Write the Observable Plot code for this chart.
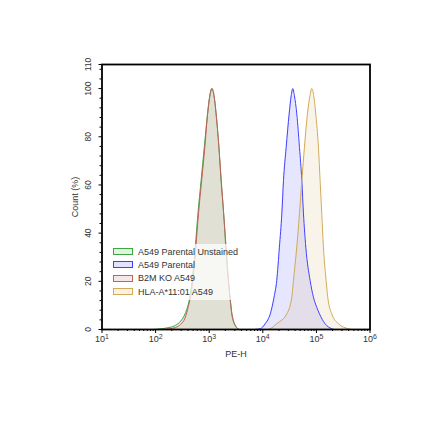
<!DOCTYPE html>
<html>
<head>
<meta charset="utf-8">
<script src="https://cdn.jsdelivr.net/npm/d3@7"></script>
<script src="https://cdn.jsdelivr.net/npm/@observablehq/plot@0.6"></script>
<style>
  html, body { margin: 0; padding: 0; background: #fff; }
  #wrap { position: relative; width: 440px; height: 440px; font-family: "Liberation Sans", Arial, sans-serif; }
  #legend { position: absolute; left: 110px; top: 244px; width: 128px; background: rgba(255,255,255,0.72); padding: 1px 0 2px 0; }
  .row { display: flex; align-items: center; height: 13.3px; font-size: 9px; color: #333; white-space: nowrap; }
  .sw { width: 18px; height: 5px; margin-left: 3px; margin-right: 5px; border: 1px solid; }
</style>
</head>
<body>
<div id="wrap"><div id="legend"></div></div>
<script>
// Series names and colours
const seriesNames = ["A549 Parental Unstained", "A549 Parental", "B2M KO A549", "HLA-A*11:01 A549"];
const seriesColors = ["#3aa83a", "#4040ff", "#c46060", "#d2aa58"];

// PE-H values given as log10 exponents, with Count (%)
const greenLogX = [1.95, 2.10, 2.25, 2.37, 2.47, 2.55, 2.63, 2.68, 2.74, 2.79, 2.85, 2.91, 2.97, 3.02, 3.05, 3.09, 3.13, 3.18, 3.22, 3.27, 3.31, 3.36, 3.39, 3.42, 3.45, 3.49, 3.53, 3.56];
const greenPct  = [0, 0.3, 0.8, 1.7, 3.5, 6.5, 12.5, 20, 34, 48, 62, 76, 89.5, 98, 100, 97, 89, 76, 62, 48, 34, 20, 13, 6.5, 3.5, 1.5, 0.4, 0];

const blueLogX = [3.85, 3.95, 4.045, 4.14, 4.21, 4.26, 4.31, 4.355, 4.386, 4.436, 4.492, 4.53, 4.56, 4.59, 4.634, 4.684, 4.728, 4.759, 4.802, 4.883, 4.945, 5.007, 5.057, 5.162, 5.286, 5.33];
const bluePct  = [0, 0.3, 2.4, 6.5, 13.4, 20.3, 34.2, 48, 61.8, 75.6, 89.5, 97, 100, 97, 89.5, 75.6, 61.8, 48, 34.2, 20.3, 13.4, 9.2, 6.5, 2.4, 0.3, 0];

const redLogX = [2.10, 2.25, 2.37, 2.47, 2.55, 2.61, 2.67, 2.71, 2.75, 2.80, 2.86, 2.92, 2.97, 3.02, 3.05, 3.09, 3.13, 3.18, 3.225, 3.27, 3.315, 3.36, 3.39, 3.425, 3.455, 3.49, 3.53, 3.56];
const redPct  = [0, 0.3, 0.8, 2.2, 4.8, 9.5, 16, 24, 34, 48, 62, 76, 89.5, 98, 100, 97, 89.5, 76, 62, 48, 34, 20, 13, 6.5, 3.5, 1.5, 0.4, 0];

const yellowLogX = [4.10, 4.138, 4.262, 4.448, 4.541, 4.572, 4.634, 4.684, 4.728, 4.777, 4.833, 4.88, 4.914, 4.95, 4.988, 5.038, 5.069, 5.10, 5.131, 5.181, 5.212, 5.286, 5.41, 5.597, 5.65];
const yellowPct  = [0, 0.3, 2.4, 6.5, 13.4, 20.3, 34.2, 48, 61.8, 75.6, 89.5, 97, 100, 97, 89.5, 75.6, 61.8, 48, 34.2, 20.3, 13.4, 6.5, 2.4, 0.3, 0];

// Tick values
const xMajorTicks = [10, 100, 1000, 10000, 100000, 1000000];
const xMinorTicks = [20,30,40,50,60,70,80,90,200,300,400,500,600,700,800,900,2000,3000,4000,5000,6000,7000,8000,9000,20000,30000,40000,50000,60000,70000,80000,90000,200000,300000,400000,500000,600000,700000,800000,900000];
const yMajorTicks = [0, 20, 40, 60, 80, 100, 110];
const yMinorTicks = [4,8,12,16,24,28,32,36,44,48,52,56,64,68,72,76,84,88,92,96,104,108];

const seriesData = [[greenLogX, greenPct], [blueLogX, bluePct], [redLogX, redPct], [yellowLogX, yellowPct]];
const rows = seriesData.flatMap(([lx, pct], s) => lx.map((l, i) => ({series: seriesNames[s], x: Math.pow(10, l), y: pct[i]})));

const font = "Liberation Sans, Arial, sans-serif";
const chart = Plot.plot({
  width: 440,
  height: 440,
  marginLeft: 101.5,
  marginRight: 70.5,
  marginTop: 64,
  marginBottom: 111,
  style: {fontFamily: font, background: "white"},
  x: {type: "log", domain: [10, 1000000], label: null},
  y: {domain: [0, 110], label: null},
  color: {domain: seriesNames, range: seriesColors},
  marks: [
    Plot.area(rows, {x1: "x", y1: 0, y2: "y", z: "series", fill: "series", fillOpacity: 0.13, curve: "monotone-x"}),
    Plot.line(rows, {x: "x", y: "y", z: "series", stroke: "series", strokeWidth: 1, curve: "monotone-x"}),
    Plot.axisX({ticks: xMinorTicks, tickSize: 2, tickFormat: () => "", label: null}),
    Plot.axisX({ticks: xMajorTicks, tickSize: 4, tickPadding: 2, fontSize: 9, fill: "#333",
      tickFormat: d => "10^" + Math.round(Math.log10(d)), label: null}),
    Plot.axisY({ticks: yMinorTicks, tickSize: 2, tickFormat: () => "", label: null}),
    Plot.axisY({ticks: yMajorTicks, tickSize: 3, tickFormat: () => "", label: null}),
    Plot.text(yMajorTicks, {y: d => d, text: d => String(d), frameAnchor: "left", textAnchor: "middle", lineAnchor: "middle", dx: -14, rotate: -90, fontSize: 8.5, fill: "#333"}),
    Plot.text(["Count (%)"], {frameAnchor: "left", textAnchor: "middle", lineAnchor: "middle", dx: -27, rotate: -90, fontSize: 9, fill: "#333"}),
    Plot.text(["PE-H"], {frameAnchor: "bottom", textAnchor: "middle", dy: 27, fontSize: 9, fill: "#333"}),
    Plot.frame({stroke: "black", strokeWidth: 1.8})
  ]
});
document.getElementById("wrap").prepend(chart);

// Render "10^n" tick labels as a base with a raised exponent
d3.select(chart).selectAll("text").each(function() {
  const s = this.textContent;
  const m = /^10\^(\d)$/.exec(s);
  if (!m) return;
  const t = d3.select(this);
  t.text("10");
  t.append("tspan").attr("dy", "-0.45em").attr("font-size", "7px").text(m[1]);
});

const legend = document.getElementById("legend");
seriesNames.forEach((name, i) => {
  const row = document.createElement("div");
  row.className = "row";
  const sw = document.createElement("span");
  sw.className = "sw";
  sw.style.borderColor = seriesColors[i];
  sw.style.background = d3.color(seriesColors[i]).copy({opacity: 0.15}).formatRgb();
  const t = document.createElement("span");
  t.textContent = name;
  row.append(sw, t);
  legend.append(row);
});
</script>
</body>
</html>
